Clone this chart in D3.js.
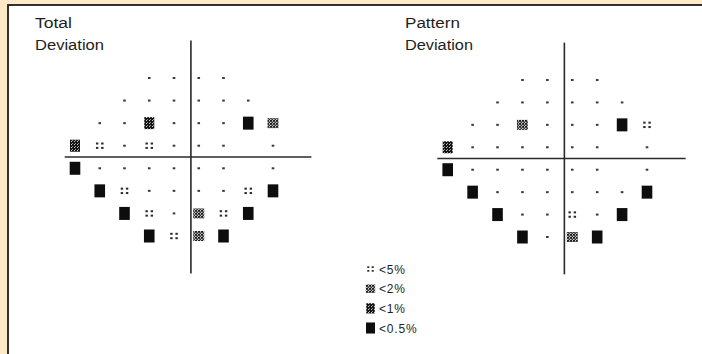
<!DOCTYPE html>
<html>
  <head>
    <style>
      body { margin: 0; background: #fde8c8; }
      .title { font: 14px "Liberation Sans", Arial, sans-serif; fill: #1e1e1e; }
      .legend-text { font: 12px "Liberation Sans", Arial, sans-serif; fill: #1e1e1e; letter-spacing: 0.8px; }
      .axis-line { stroke: #2a2a2a; stroke-width: 1.6; }
    </style>
  </head>
  <body>
    <svg width="702" height="354"></svg>
    <script src="https://d3js.org/d3.v7.min.js"></script>
    <script>
      // test locations (degrees) of the 24-2 grid
      const cols = [-27, -21, -15, -9, -3, 3, 9, 15, 21];
      const rows = [21, 15, 9, 3, -3, -9, -15, -21];

      // 0 = normal, 1 = <5%, 2 = <2%, 3 = <1%, 4 = <0.5%, null = not tested
      const totalDeviation = [
        [null, null, null, 0, 0, 0, 0, null, null],
        [null, null, 0, 0, 0, 0, 0, 0, null],
        [null, 0, 0, 3, 0, 0, 0, 4, 2],
        [3, 1, 0, 1, 0, 0, 0, null, 0],
        [4, 0, 0, 0, 0, 0, 0, null, 0],
        [null, 4, 1, 0, 0, 0, 0, 1, 4],
        [null, null, 4, 1, 0, 2, 1, 4, null],
        [null, null, null, 4, 1, 2, 4, null, null]
      ];

      const patternDeviation = [
        [null, null, null, 0, 0, 0, 0, null, null],
        [null, null, 0, 0, 0, 0, 0, 0, null],
        [null, 0, 0, 2, 0, 0, 0, 4, 1],
        [3, 0, 0, 0, 0, 0, 0, null, 0],
        [4, 0, 0, 0, 0, 0, 0, null, 0],
        [null, 4, 0, 0, 0, 0, 0, 0, 4],
        [null, null, 4, 0, 0, 1, 0, 4, null],
        [null, null, null, 4, 0, 2, 4, null, null]
      ];

      const legendCodes = [1, 2, 3, 4];
      const legendLabels = ["<5%", "<2%", "<1%", "<0.5%"];

      const svg = d3.select("svg");

      // patterns for the grey-scale symbols
      const defs = svg.append("defs");
      const p2 = defs.append("pattern").attr("id", "p2")
        .attr("patternUnits", "userSpaceOnUse").attr("width", 3).attr("height", 3);
      p2.append("rect").attr("width", 3).attr("height", 3).attr("fill", "#c8c8c8");
      p2.append("rect").attr("x", 0).attr("y", 0).attr("width", 2).attr("height", 1.8).attr("fill", "#1e1e1e");
      p2.append("rect").attr("x", 1.5).attr("y", 1.5).attr("width", 1.5).attr("height", 1.5).attr("fill", "#333");

      const p1 = defs.append("pattern").attr("id", "p1")
        .attr("patternUnits", "userSpaceOnUse").attr("width", 3).attr("height", 3);
      p1.append("rect").attr("width", 3).attr("height", 3).attr("fill", "#151515");
      p1.append("rect").attr("x", 2).attr("y", 0).attr("width", 1).attr("height", 1).attr("fill", "#ccc");
      p1.append("rect").attr("x", 0).attr("y", 2).attr("width", 1).attr("height", 1).attr("fill", "#999");

      // white sheet with dark frame
      svg.append("rect")
        .attr("x", 8).attr("y", 5).attr("width", 720).attr("height", 380)
        .attr("fill", "#fff").attr("stroke", "#1c1c1c").attr("stroke-width", 1.8);

      function drawSymbol(g, code, cx, cy, s) {
        if (code === 0) {
          g.append("rect").attr("x", cx - 1.3).attr("y", cy - 1)
            .attr("width", 2.6).attr("height", 2).attr("fill", "#3a3a3a");
        } else if (code === 1) {
          [[-1, -1], [1, -1], [-1, 1], [1, 1]].forEach(([dx, dy]) => {
            g.append("rect")
              .attr("x", cx + dx * 2.6 * s - 1.2 * s).attr("y", cy + dy * 2.2 * s - 1 * s)
              .attr("width", 2.4 * s).attr("height", 2 * s).attr("fill", "#2a2a2a");
          });
        } else if (code === 2) {
          g.append("rect").attr("x", cx - 5.5 * s).attr("y", cy - 5 * s)
            .attr("width", 11 * s).attr("height", 10 * s).attr("fill", "url(#p2)");
        } else if (code === 3) {
          g.append("rect").attr("x", cx - 5 * s).attr("y", cy - 6 * s)
            .attr("width", 10 * s).attr("height", 12 * s).attr("fill", "url(#p1)");
        } else if (code === 4) {
          g.append("rect").attr("x", cx - 5.3 * s).attr("y", cy - 6.5 * s)
            .attr("width", 10.6 * s).attr("height", 13 * s).attr("fill", "#0d0d0d");
        }
      }

      function drawPlot(data, xRange, yRange, titleX, titleLines) {
        const x = d3.scaleLinear().domain([cols[0], cols[cols.length - 1]]).range(xRange);
        const y = d3.scaleLinear().domain([rows[0], rows[rows.length - 1]]).range(yRange);
        const g = svg.append("g");

        // meridian axes (vertical one sits a little right of 0 in the print)
        g.append("line").attr("class", "axis-line")
          .attr("x1", x(-29.5)).attr("x2", x(30.3)).attr("y1", y(0)).attr("y2", y(0));
        g.append("line").attr("class", "axis-line")
          .attr("x1", x(1.1)).attr("x2", x(1.1)).attr("y1", y(31)).attr("y2", y(-31));

        data.forEach((row, i) => {
          row.forEach((code, j) => {
            if (code !== null) drawSymbol(g, code, x(cols[j]), y(rows[i]), 1);
          });
        });

        titleLines.forEach((t, i) => {
          g.append("text").attr("class", "title")
            .attr("x", titleX).attr("y", 28 + i * 21.5)
            .attr("textLength", t.w).attr("lengthAdjust", "spacingAndGlyphs")
            .text(t.text);
        });
      }

      drawPlot(totalDeviation, [75, 273], [78, 236], 35,
        [{ text: "Total", w: 37 }, { text: "Deviation", w: 69 }]);
      drawPlot(patternDeviation, [447.7, 647], [80, 237], 405,
        [{ text: "Pattern", w: 55 }, { text: "Deviation", w: 68 }]);

      // legend
      const ly = d3.scalePoint().domain(legendLabels).range([269, 328]);
      const legend = svg.append("g");
      legendLabels.forEach((label, i) => {
        drawSymbol(legend, legendCodes[i], 370.5, ly(label), 0.85);
        legend.append("text").attr("class", "legend-text")
          .attr("x", 379).attr("y", ly(label) + 4.5).text(label);
      });
    </script>
  </body>
</html>
